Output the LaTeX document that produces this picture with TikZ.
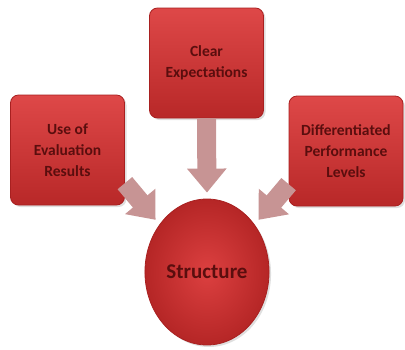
\documentclass[tikz,border=0pt]{standalone}
\usepackage{fontspec}
\setmainfont{Carlito}
\usetikzlibrary{arrows.meta,shapes.geometric,shadows}
\definecolor{boxtop}{HTML}{DE4848}
\definecolor{boxbot}{HTML}{B82828}
\definecolor{boxedge}{HTML}{A82020}
\definecolor{hubin}{HTML}{DC4040}
\definecolor{hubout}{HTML}{B52626}
\definecolor{labelred}{HTML}{5A0E0E}
\definecolor{arrowpink}{HTML}{C79494}
\begin{document}
\begin{tikzpicture}[x=1pt,y=-1pt,
  card/.style={rectangle, rounded corners=8pt, minimum width=114pt,
    minimum height=110pt, top color=boxtop, bottom color=boxbot,
    draw=boxedge, line width=0.8pt, align=center, text=labelred,
    font=\bfseries\fontsize{15.5}{21}\selectfont,
    drop shadow={opacity=0.25, shadow xshift=2pt, shadow yshift=-2pt}},
  hub/.style={ellipse, minimum width=116pt, minimum height=146pt,
    inner color=hubin, outer color=hubout, draw=boxedge, line width=0.8pt,
    text=labelred, font=\bfseries\fontsize{21}{24}\selectfont,
    drop shadow={opacity=0.25, shadow xshift=2pt, shadow yshift=-2pt}},
  feed/.style={line width=19pt, draw=arrowpink,
    -{Triangle[length=24pt,width=38pt]}, shorten >=6pt}]
  \useasboundingbox (0,0) rectangle (405,349);
  % three source boxes and the central hub
  \node[card] (top)   at (206.5,63) {Clear\\Expectations};
  \node[card] (left)  at (67.5,150) {Use of\\Evaluation\\Results};
  \node[card] (right) at (346,151) {Differentiated\\Performance\\Levels};
  \node[hub]  (circ)  at (207,272) {Structure};
  % block arrows feeding the hub
  \draw[feed] (top.south) -- (circ.north);
  \draw[feed] (left.-30) -- (circ.135);
  \draw[feed] (right.210) -- (circ.45);
\end{tikzpicture}
\end{document}
